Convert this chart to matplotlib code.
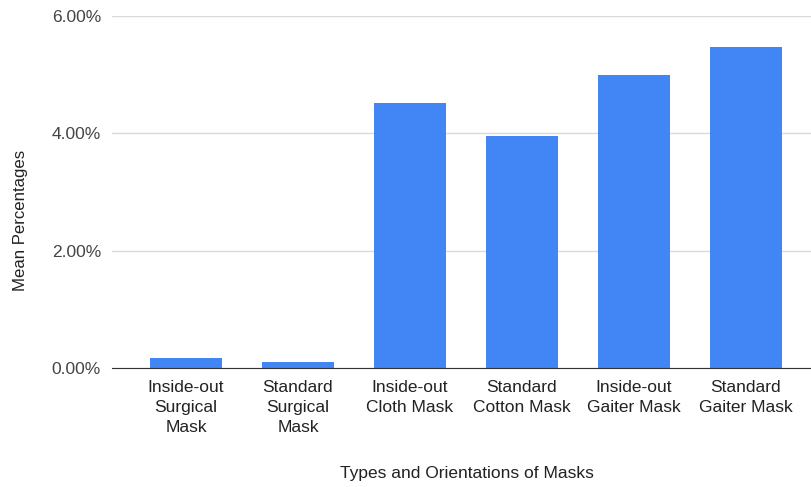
import matplotlib.pyplot as plt
from matplotlib.ticker import FuncFormatter

plt.rcParams['font.family'] = ['Liberation Sans', 'DejaVu Sans']

categories = ['Inside-out\nSurgical\nMask', 'Standard\nSurgical\nMask', 'Inside-out\nCloth Mask',
              'Standard\nCotton Mask', 'Inside-out\nGaiter Mask', 'Standard\nGaiter Mask']
mean_pct = [0.17, 0.10, 4.52, 3.95, 5.00, 5.47]
yticks = [0, 2, 4, 6]

fig = plt.figure(figsize=(8.12, 4.87), dpi=100)
ax = fig.add_axes([0.138, 0.2444, 0.862, 0.7226])

x = range(len(categories))
ax.bar(x, mean_pct, width=0.643, color='#4285F4', zorder=3)

ax.set_xlim(-0.66, 5.59)
ax.set_ylim(0, 6)
ax.set_yticks(yticks)
ax.yaxis.set_major_formatter(FuncFormatter(lambda v, p: '%.2f%%' % v))
ax.set_xticks(list(x))
ax.set_xticklabels(categories, fontsize=12.5, color='#222222', linespacing=1.4)
ax.tick_params(axis='y', labelsize=12.5, labelcolor='#444444', length=0, pad=8)
ax.tick_params(axis='x', length=0, pad=9)
ax.grid(axis='y', color='#d9d9d9', linewidth=1, zorder=0)
for s in ['top', 'right', 'left']:
    ax.spines[s].set_visible(False)
ax.spines['bottom'].set_color('#333333')
ax.spines['bottom'].set_zorder(4)

ax.set_xlabel('Types and Orientations of Masks', fontsize=12.5, color='#222222')
ax.set_ylabel('Mean Percentages', fontsize=12.1, color='#222222')
ax.xaxis.set_label_coords(0.507, -0.278)
ax.yaxis.set_label_coords(-0.12, 0.418)

fig.savefig('out.png', dpi=100)
